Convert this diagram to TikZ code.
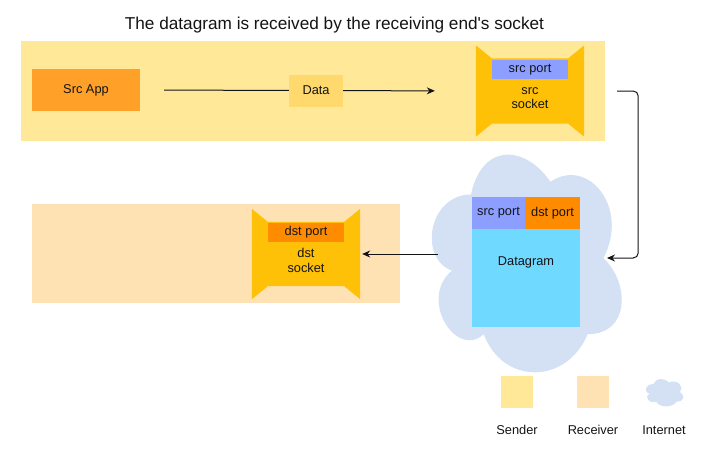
\documentclass[tikz,border=0pt]{standalone}
\usepackage{fontspec}
\setmainfont{Liberation Sans}
\usepackage{tikz}
\usetikzlibrary{arrows.meta, positioning, calc}
\definecolor{sendbg}{RGB}{255,233,153}
\definecolor{recvbg}{RGB}{255,226,179}
\definecolor{appfill}{RGB}{255,160,40}
\definecolor{datafill}{RGB}{255,217,110}
\definecolor{sockfill}{RGB}{255,193,7}
\definecolor{srcportfill}{RGB}{140,158,255}
\definecolor{dstportfill}{RGB}{255,140,0}
\definecolor{dgramfill}{RGB}{112,217,255}
\definecolor{cloudfill}{RGB}{212,225,245}
\definecolor{inkdark}{RGB}{20,20,20}
\tikzset{
  band/.style={rectangle, inner sep=0pt},
  appbox/.style={rectangle, fill=appfill, minimum width=108pt, minimum height=42pt,
    font=\fontsize{12.8}{14.5}\selectfont, text=inkdark},
  datalbl/.style={rectangle, fill=datafill, minimum width=54pt, minimum height=32pt,
    font=\fontsize{12.8}{14.5}\selectfont, text=inkdark},
  sockbox/.style={rectangle, minimum width=108pt, minimum height=91pt, inner sep=0pt},
  portbox/.style={rectangle, minimum width=76pt, minimum height=19pt, inner sep=0pt,
    font=\fontsize{12.8}{14.5}\selectfont, text=inkdark},
  socklbl/.style={align=center, font=\fontsize{12.8}{14.5}\selectfont, text=inkdark},
  dgrambox/.style={rectangle, fill=dgramfill, minimum width=108pt, minimum height=130pt,
    font=\fontsize{12.8}{14.5}\selectfont, text=inkdark},
  cellbox/.style={rectangle, minimum height=32pt, inner sep=0pt,
    font=\fontsize{12.8}{14.5}\selectfont, text=inkdark},
  keybox/.style={rectangle, minimum width=32pt, minimum height=32pt},
  keylbl/.style={font=\fontsize{12.8}{14.5}\selectfont, text=inkdark},
  arrow/.style={-{Stealth[length=8pt, width=7pt]}, line width=1pt, color=inkdark}
}
% cloud outline: x, y, width, height
\newcommand{\drawcloud}[4]{%
  \fill[cloudfill] ({#1+0.25*#3},{#2+0.25*#4})
    .. controls ({#1+0.05*#3},{#2+0.25*#4}) and ({#1},{#2+0.5*#4}) .. ({#1+0.16*#3},{#2+0.55*#4})
    .. controls ({#1},{#2+0.66*#4}) and ({#1+0.18*#3},{#2+0.9*#4}) .. ({#1+0.31*#3},{#2+0.8*#4})
    .. controls ({#1+0.4*#3},{#2+#4}) and ({#1+0.7*#3},{#2+#4}) .. ({#1+0.8*#3},{#2+0.8*#4})
    .. controls ({#1+#3},{#2+0.8*#4}) and ({#1+#3},{#2+0.6*#4}) .. ({#1+0.875*#3},{#2+0.5*#4})
    .. controls ({#1+#3},{#2+0.3*#4}) and ({#1+0.8*#3},{#2+0.1*#4}) .. ({#1+0.625*#3},{#2+0.2*#4})
    .. controls ({#1+0.5*#3},{#2+0.05*#4}) and ({#1+0.3*#3},{#2+0.05*#4}) .. ({#1+0.25*#3},{#2+0.25*#4})
    -- cycle;}
% socket body inside a named node
\newcommand{\sockshape}[1]{%
  \fill[sockfill] (#1.north west) -- ([shift={(16pt,-13pt)}]#1.north west)
    -- ([shift={(-16pt,-13pt)}]#1.north east) -- (#1.north east) -- (#1.south east)
    -- ([shift={(-16pt,13pt)}]#1.south east) -- ([shift={(16pt,13pt)}]#1.south west)
    -- (#1.south west) -- cycle;}

\begin{document}
\begin{tikzpicture}[x=1pt, y=-1pt]
  \useasboundingbox (0,0) rectangle (704,458);

  % Title
  \node[font=\fontsize{17.2}{20}\selectfont, text=inkdark] (title) at (334.5,25) {The datagram is received by the receiving end\textquotesingle s socket};

  % Bands
  \node[band, fill=sendbg, minimum width=584pt, minimum height=100pt] (sendband) at (313,91) {};
  \node[band, fill=recvbg, minimum width=368pt, minimum height=99pt] (recvband) at (216,253.5) {};

  % Sender side
  \node[appbox] (srcapp) at (86,90) {Src App};
  \node[sockbox] (srcsock) at (530,91) {};
  \sockshape{srcsock}
  \node[portbox, fill=srcportfill] (srcport) at (530,69.5) {src port};
  \node[socklbl] (srclbl) at (530,98) {src\\socket};

  % Receiver side
  \node[sockbox, minimum height=90pt] (dstsock) at (306,254) {};
  \sockshape{dstsock}
  \node[portbox, fill=dstportfill] (dstport) at (306,232.5) {dst port};
  \node[socklbl] (dstlbl) at (306,260.5) {dst\\socket};

  % Internet
  \drawcloud{418}{131}{212}{254}
  \coordinate (cloudE) at (607,258);
  \coordinate (cloudW) at (438,254);
  \node[dgrambox] (dgram) at (526,262) {Datagram};
  \node[cellbox, fill=srcportfill, minimum width=53pt] (dsrcport) at (498.5,213) {src port};
  \node[cellbox, fill=dstportfill, minimum width=55pt] (ddstport) at (552.5,213) {dst port};

  % Paths
  \draw[arrow, shorten <=24pt, shorten >=41pt] (srcapp.east) -- (srcsock.west)
    node[datalbl, pos=0.524] (data) {Data};
  \draw[arrow, rounded corners=5pt] ([xshift=33pt]srcsock.east) -- ++(21,0) |- (cloudE);
  \draw[arrow, shorten >=2pt] (cloudW) -- (dstsock.east);

  % Legend
  \node[keybox, fill=sendbg] (sendkey) at (517,392) {};
  \node[keybox, fill=recvbg] (recvkey) at (592.5,392) {};
  \drawcloud{643}{376}{42}{32}
  \node[keylbl] (sendtxt) at (517,430) {Sender};
  \node[keylbl] (recvtxt) at (593,430) {Receiver};
  \node[keylbl] (nettxt) at (664,430) {Internet};
\end{tikzpicture}
\end{document}
